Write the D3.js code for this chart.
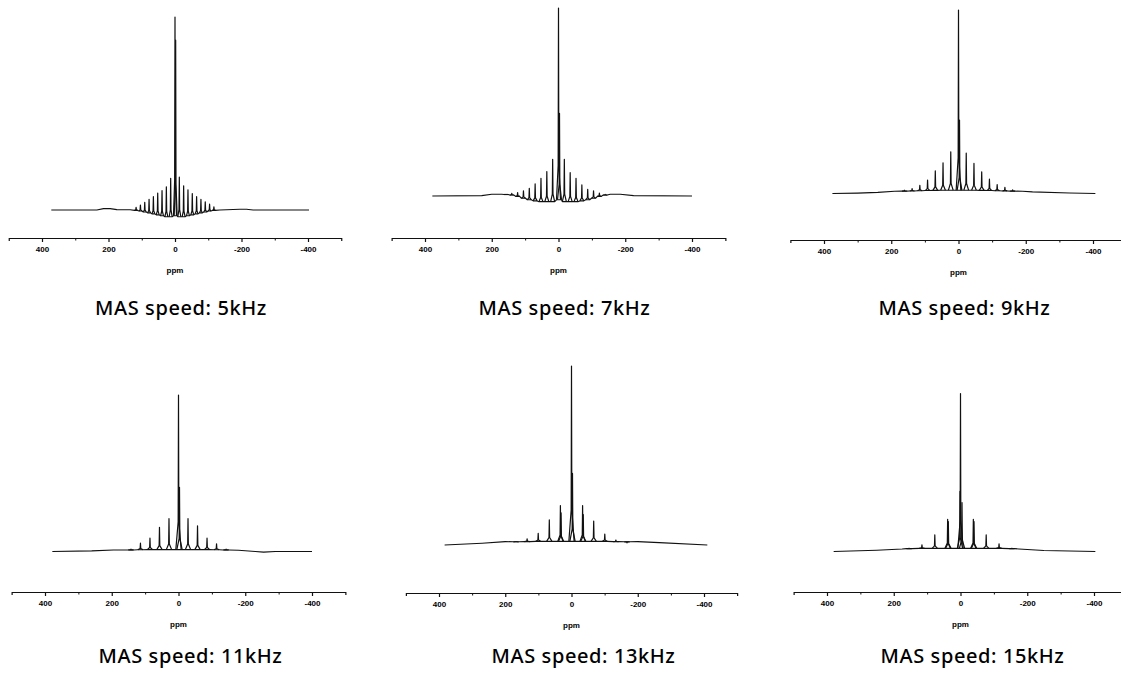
<!DOCTYPE html>
<html><head><meta charset="utf-8">
<script src="https://cdn.jsdelivr.net/npm/d3@7"></script>
<style>body{margin:0;background:#fff}svg{display:block}</style>
</head><body>
<svg id="c" width="1121" height="679"></svg>
<script>
// ---------------- DATA ----------------
const titles = ["MAS speed: 5kHz", "MAS speed: 7kHz", "MAS speed: 9kHz",
                "MAS speed: 11kHz", "MAS speed: 13kHz", "MAS speed: 15kHz"];
const majorTicks = [400, 200, 0, -200, -400];
const minorTicks = [300, 100, -100, -300];
const axisTitle = "ppm";

// peaks: [ppm, intensity (% of main), trough level beside the peak]
const peaks5k = [[0,100,-3],[-2,88,-3],
  [13,16.4,-3.5],[26,12,-3.5],[39,10,-3],[52,8.8,-2.5],[65,6.9,-2],[78,5.5,-1.5],[91,4,-1],[104,2.6,-0.5],[117,1.4,-0.2],
  [-13,17,-3.5],[-26,12.5,-3.5],[-39,10.5,-3],[-52,8.5,-2.5],[-65,6.9,-2],[-78,5.5,-1.5],[-91,4.2,-1],[-104,3,-0.5],[-117,1.6,-0.2]];
const base5k = [[372,0],[235,0],[215,0.7],[195,0.7],[175,0.2],[135,0.1],[-135,0],[-195,0.4],[-215,0.4],[-235,0],[-403,0]];

const peaks7k = [[0,100,-2],[-3,44,-2],
  [17.5,19.5,-3],[35,13,-3],[52.5,9.4,-3],[70,6.4,-2.6],[87.5,4.1,-2],[105,2.8,-1.2],[122.5,1.8,-0.2],[140,1.4,0.5],[157,0.8,0.8],
  [-17.5,19.5,-3],[-35,12.4,-3],[-52.5,9.4,-3],[-70,5.9,-2.6],[-87.5,3.6,-2],[-105,2.8,-1.2],[-122.5,1.5,-0.2],[-140,0.8,0.5]];
const base7k = [[378,0],[230,0.2],[200,0.9],[170,0.9],[-155,0.9],[-185,0.9],[-225,0.2],[-400,0]];

const peaks9k = [[0,100,1.8],[-3,40,1.8],
  [23,22.7,1.8],[46,16.7,1.8],[69,12.4,1.7],[92,7.3,1.6],[115,4.5,1.5],[138,2.7,1.4],[161,1.8,1.3],
  [-23,22,1.8],[-46,16.4,1.8],[-69,11.8,1.7],[-92,7.8,1.6],[-115,4.9,1.5],[-138,3.3,1.4],[-161,2,1.3]];
const base9k = [[375,0],[300,0.2],[240,0.6],[190,1.2],[-190,1.2],[-220,0.9],[-330,0.3],[-407,0]];

const peaks11k = [[0,100,1.2],[-3,41,1.2],
  [28.5,21,1.2],[57,15.5,1.2],[85.5,8.5,1.2],[114,5.3,1.1],[142.5,1.5,1],
  [-28.5,21,1.2],[-57,16.4,1.2],[-85.5,8.5,1.2],[-114,4.9,1.1],[-142.5,1.5,1]];
const base11k = [[378,0],[260,0.4],[195,1],[-180,0.8],[-230,0],[-255,-0.4],[-290,0],[-400,0]];

const peaks13k = [[0,100,2],[-3,40,2],
  [33.5,22,2],[31.5,18,2],[67,14,2],[100.5,6.5,2],[134,3.4,1.9],[167.5,1.9,1.8],
  [-33.5,22,2],[-35.5,17,2],[-67,13.4,2],[-100.5,6.1,2],[-134,2.8,1.9],[-167.5,1.2,1.8]];
const base13k = [[383,0],[270,1],[200,1.9],[-200,1.9],[-265,1.3],[-410,0]];

const peaks15k = [[0,100,2],[1.5,38,2],[-4.5,31,2],
  [38.5,20.4,2],[36.5,19,2],[77,10.5,2],[115.5,4.2,2],[154,2,1.8],
  [-38.5,20.4,2],[-40.5,19,2],[-77,10.5,2],[-115.5,4.8,2],[-154,2,1.8]];
const base15k = [[380,0],[251,0.8],[175,1.6],[-175,1.6],[-250,0.6],[-404,0]];

const peakSets = [peaks5k, peaks7k, peaks9k, peaks11k, peaks13k, peaks15k];
const baseSets = [base5k, base7k, base9k, base11k, base13k, base15k];

// ---------------- LAYOUT / STYLE ----------------
const layout = [
  {x400: 42,  xm400: 308,  baseY: 210,   topY: 17,    axisY: 238, titleY: 315, foot: 4.5},
  {x400: 425, xm400: 692,  baseY: 196,   topY: 8,     axisY: 238, titleY: 315, foot: 6},
  {x400: 824, xm400: 1093, baseY: 193.5, topY: 10,    axisY: 240, titleY: 315, foot: 7},
  {x400: 45,  xm400: 312,  baseY: 551.5, topY: 395,   axisY: 592, titleY: 663, foot: 8},
  {x400: 439, xm400: 704,  baseY: 545,   topY: 366,   axisY: 593, titleY: 663, foot: 8},
  {x400: 827, xm400: 1094, baseY: 551.5, topY: 393.5, axisY: 592, titleY: 663, foot: 8}
];
const TIP = 1.0;
const INK = "#111";

const svg = d3.select("#c");
svg.append("rect").attr("width",1121).attr("height",679).attr("fill","#fff");

titles.forEach((t, i) => {
  const L = layout[i];
  const peaks = peakSets[i], base = baseSets[i];
  const x = d3.scaleLinear().domain([400, -400]).range([L.x400, L.xm400]);
  const y = d3.scaleLinear().domain([0, 100]).range([L.baseY, L.topY]);
  const line = d3.line().x(d => x(d[0])).y(d => y(d[1]));
  const g = svg.append("g");

  // baseline through troughs
  const bpts = base.concat(peaks.flatMap(p => [[p[0] + L.foot, p[2]], [p[0] - L.foot, p[2]]]))
                   .sort((a, b) => b[0] - a[0]);
  g.append("path").attr("d", line(bpts)).attr("fill", "none")
    .attr("stroke", INK).attr("stroke-width", 1.1).attr("stroke-linejoin", "round");

  // peaks
  g.selectAll("path.pk").data(peaks).join("path").attr("class", "pk")
    .attr("d", p => line([[p[0] + L.foot, p[2]], [p[0] + TIP, p[2] + (p[1] - p[2]) * 0.18],
                          [p[0], p[1]], [p[0] - TIP, p[2] + (p[1] - p[2]) * 0.18], [p[0] - L.foot, p[2]]]))
    .attr("fill", "none").attr("stroke", INK).attr("stroke-width", 1.2).attr("stroke-linejoin", "round");

  // axis
  const xa = d3.scaleLinear().domain([500, -500]).range([x(500), x(-500)]);
  const ax = g.append("g").attr("transform", `translate(0,${L.axisY})`)
    .call(d3.axisBottom(xa).tickValues(majorTicks).tickSize(4).tickSizeOuter(3).tickPadding(4)
      .tickFormat(d => String(d)));
  ax.select(".domain").attr("stroke", INK).attr("stroke-width", 1.2);
  ax.selectAll(".tick line").attr("stroke", INK).attr("stroke-width", 1.2);
  ax.selectAll(".tick text").attr("fill", "#000")
    .style("font-family", "'Liberation Sans', Arial, sans-serif").style("font-size", "8px").style("font-weight", "bold");
  const mx = g.append("g").attr("transform", `translate(0,${L.axisY})`)
    .call(d3.axisBottom(xa).tickValues(minorTicks).tickSize(2.5).tickFormat(""));
  mx.select(".domain").remove();
  mx.selectAll(".tick line").attr("stroke", INK).attr("stroke-width", 1);

  g.append("text").attr("x", x(0)).attr("y", L.axisY + 35).attr("text-anchor", "middle")
    .style("font-family", "'Liberation Sans', Arial, sans-serif").style("font-size", "8px").style("font-weight", "bold")
    .text(axisTitle);

  g.append("text").attr("x", x(0) - 80).attr("y", L.titleY)
    .style("font-family", "'Noto Sans', sans-serif").style("font-size", "20px").style("font-weight", "500")
    .style("letter-spacing", "0.6px")
    .attr("fill", "#000").text(t);
});
</script>
</body></html>
